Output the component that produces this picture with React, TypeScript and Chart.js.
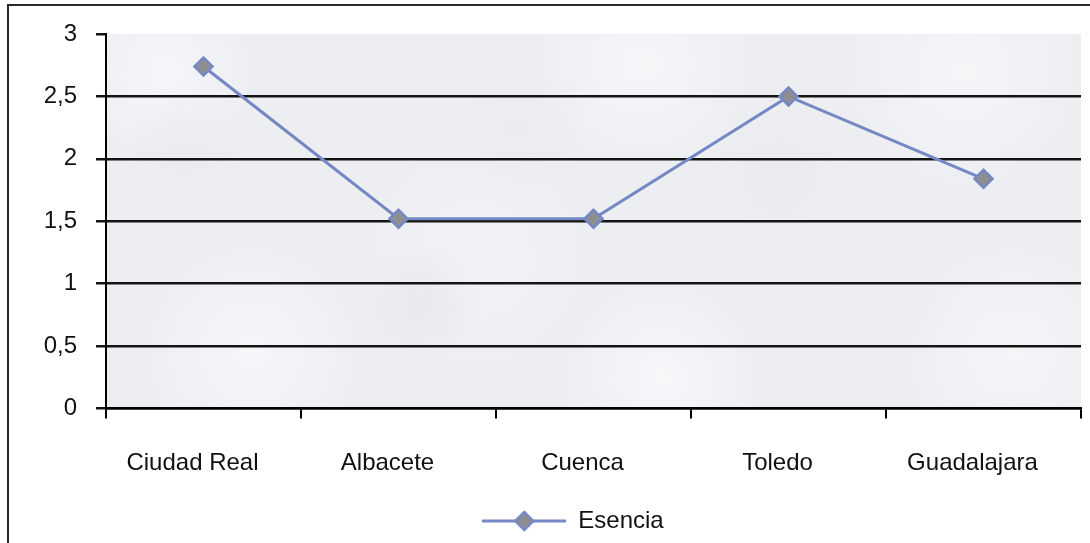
import React, { useEffect, useRef } from 'react';
import { Chart, registerables } from 'chart.js';

Chart.register(...registerables);

// ---- data ----
const categories = ['Ciudad Real', 'Albacete', 'Cuenca', 'Toledo', 'Guadalajara'];
const esencia = [2.74, 1.52, 1.52, 2.5, 1.84];
const seriesLabel = 'Esencia';
const yTickValues = [0, 0.5, 1, 1.5, 2, 2.5, 3];

// ---- styling ----
const LINE_COLOR = '#7588c3';
const MARKER_FILL = '#8e8e90';
const TEXT_COLOR = '#111111';
const FONT_FAMILY = "'Liberation Sans', Arial, Helvetica, sans-serif";
const FONT_SIZE = 24;
const CANVAS_W = 1146;
const CANVAS_H = 543;

// Line-with-diamond glyph used as the legend symbol
function makeLegendGlyph(): HTMLCanvasElement {
  const w = 84;
  const h = 24;
  const c = document.createElement('canvas');
  c.width = w;
  c.height = h;
  const g = c.getContext('2d')!;
  const cy = h / 2;
  const cx = w / 2;
  g.strokeStyle = LINE_COLOR;
  g.lineWidth = 3;
  g.beginPath();
  g.moveTo(0, cy);
  g.lineTo(w, cy);
  g.stroke();
  const r = 9;
  g.beginPath();
  g.moveTo(cx - r, cy);
  g.lineTo(cx, cy - r);
  g.lineTo(cx + r, cy);
  g.lineTo(cx, cy + r);
  g.closePath();
  g.fillStyle = MARKER_FILL;
  g.fill();
  g.lineWidth = 2.5;
  g.stroke();
  return c;
}

// Outer frame and soft cloudy fill behind the plot area
const backdrop = {
  id: 'backdrop',
  beforeDraw(chart: any) {
    const { ctx, chartArea: a } = chart;
    ctx.save();
    ctx.fillStyle = '#ffffff';
    ctx.fillRect(0, 0, chart.width, chart.height);

    // frame
    ctx.strokeStyle = '#2a2a2a';
    ctx.lineWidth = 2;
    ctx.strokeRect(8, 5, 1130, CANVAS_H + 20);

    // plot area
    const w = a.right - a.left;
    const h = a.bottom - a.top;
    ctx.beginPath();
    ctx.rect(a.left, a.top, w, h);
    ctx.clip();
    ctx.fillStyle = '#eceef2';
    ctx.fillRect(a.left, a.top, w, h);

    const blobs: [number, number, number, string][] = [
      [0.06, 0.1, 90, 'rgba(247,248,250,0.8)'],
      [0.55, 0.08, 110, 'rgba(248,248,250,0.8)'],
      [0.88, 0.1, 120, 'rgba(247,247,249,0.8)'],
      [0.15, 0.85, 110, 'rgba(247,248,250,0.8)'],
      [0.57, 0.92, 100, 'rgba(249,249,251,0.8)'],
      [0.93, 0.85, 110, 'rgba(246,247,249,0.8)'],
      [0.38, 0.6, 120, 'rgba(245,246,249,0.5)'],
      [0.32, 0.72, 60, 'rgba(226,228,232,0.6)'],
      [0.69, 0.38, 70, 'rgba(229,231,236,0.5)'],
      [0.08, 0.3, 60, 'rgba(230,232,237,0.5)'],
      [0.42, 0.25, 70, 'rgba(231,233,238,0.4)'],
      [0.8, 0.7, 60, 'rgba(232,234,238,0.4)'],
    ];
    for (const [fx, fy, r, col] of blobs) {
      const x = a.left + fx * w;
      const y = a.top + fy * h;
      const grad = ctx.createRadialGradient(x, y, 0, x, y, r);
      grad.addColorStop(0, col);
      grad.addColorStop(1, col.replace(/[\d.]+\)$/, '0)'));
      ctx.fillStyle = grad;
      ctx.fillRect(x - r, y - r, 2 * r, 2 * r);
    }
    ctx.restore();
  },
};

export default function App() {
  const canvasRef = useRef<HTMLCanvasElement | null>(null);

  useEffect(() => {
    if (!canvasRef.current) return;
    const font = { family: FONT_FAMILY, size: FONT_SIZE };
    const legendGlyph = makeLegendGlyph();

    const chart = new Chart(canvasRef.current, {
      type: 'line',
      data: {
        labels: categories,
        datasets: [
          {
            label: seriesLabel,
            data: esencia,
            borderColor: LINE_COLOR,
            borderWidth: 3,
            pointStyle: 'rectRot',
            pointRadius: 9,
            pointBorderWidth: 2.5,
            pointBackgroundColor: MARKER_FILL,
            pointBorderColor: LINE_COLOR,
            tension: 0,
            fill: false,
          },
        ],
      },
      options: {
        animation: false,
        responsive: false,
        devicePixelRatio: 1,
        layout: { padding: { left: 0, top: 34, right: 0, bottom: 0 } },
        scales: {
          x: {
            type: 'category',
            offset: true,
            grid: {
              offset: true,
              drawOnChartArea: false,
              drawTicks: true,
              tickLength: 10,
              color: '#000',
              lineWidth: 2,
            },
            border: { display: true, color: '#000', width: 2.5 },
            ticks: {
              font,
              color: TEXT_COLOR,
              padding: 30,
              labelOffset: -11,
              maxRotation: 0,
              autoSkip: false,
            },
            afterFit(scale: any) {
              scale.height = 98;
            },
          },
          y: {
            min: 0,
            max: 3,
            afterBuildTicks(scale: any) {
              scale.ticks = yTickValues.map((v) => ({ value: v }));
            },
            ticks: {
              font,
              color: TEXT_COLOR,
              padding: 19,
              callback: (v: any) => String(v).replace('.', ','),
            },
            grid: {
              color: (ctx: any) =>
                ctx.tick && ctx.tick.value === 3 ? 'rgba(0,0,0,0)' : '#141414',
              tickColor: '#141414',
              lineWidth: 2.5,
              tickLength: 10,
            },
            border: { display: true, color: '#000', width: 2 },
            afterFit(scale: any) {
              scale.width = 106;
            },
          },
          // empty right-hand margin inside the frame
          yMargin: {
            type: 'linear',
            position: 'right',
            display: true,
            grid: { display: false },
            ticks: { display: false },
            border: { display: false },
            afterFit(scale: any) {
              scale.width = 65;
            },
          },
        },
        plugins: {
          tooltip: { enabled: false },
          legend: {
            position: 'bottom',
            labels: {
              usePointStyle: true,
              pointStyleWidth: 84,
              padding: 2.5,
              font,
              color: TEXT_COLOR,
              generateLabels: () => [
                {
                  text: seriesLabel,
                  pointStyle: legendGlyph as any,
                  fillStyle: MARKER_FILL,
                  strokeStyle: LINE_COLOR,
                  lineWidth: 0,
                  hidden: false,
                  datasetIndex: 0,
                  fontColor: TEXT_COLOR,
                } as any,
              ],
            },
          },
        },
      },
      plugins: [backdrop],
    });

    return () => chart.destroy();
  }, []);

  return (
    <div
      style={{
        position: 'fixed',
        left: 0,
        top: 0,
        width: 1090,
        height: 543,
        overflow: 'hidden',
        background: '#fff',
      }}
    >
      <canvas
        ref={canvasRef}
        width={CANVAS_W}
        height={CANVAS_H}
        style={{ display: 'block', width: CANVAS_W, height: CANVAS_H }}
      />
    </div>
  );
}
